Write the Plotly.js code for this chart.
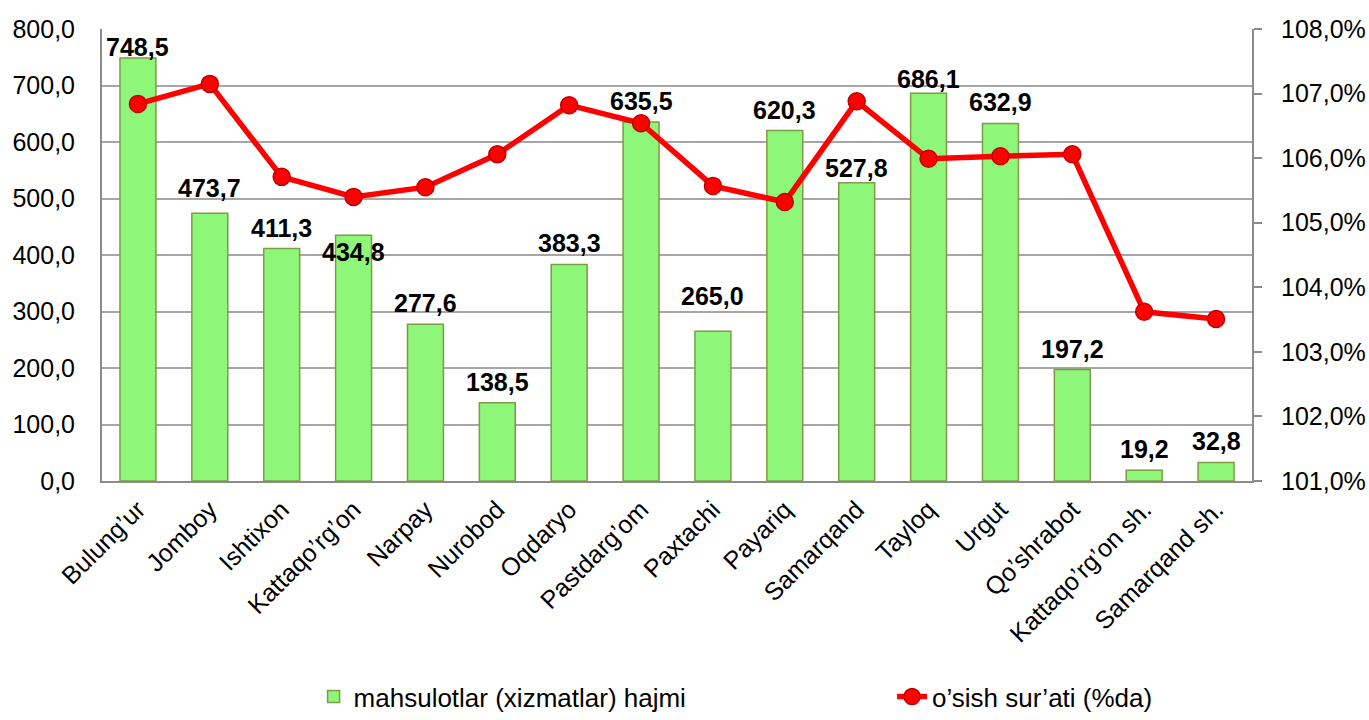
<!DOCTYPE html>
<html>
<head>
<meta charset="utf-8">
<script src="https://cdn.plot.ly/plotly-3.0.1.min.js"></script>
<style>
html,body{margin:0;padding:0;background:#fff;}
#chart{width:1369px;height:720px;}
</style>
</head>
<body>
<div id="chart"></div>
<script>
const categories = ["Bulung’ur","Jomboy","Ishtixon","Kattaqo’rg’on","Narpay","Nurobod","Oqdaryo","Pastdarg’om","Paxtachi","Payariq","Samarqand","Tayloq","Urgut","Qo’shrabot","Kattaqo’rg’on sh.","Samarqand sh."];
const volume = [748.5,473.7,411.3,434.8,277.6,138.5,383.3,635.5,265.0,620.3,527.8,686.1,632.9,197.2,19.2,32.8];
const growth = [106.84,107.15,105.71,105.40,105.55,106.06,106.82,106.54,105.57,105.32,106.88,105.99,106.03,106.06,103.62,103.51];
const barName = "mahsulotlar (xizmatlar) hajmi";
const lineName = "o’sish sur’ati (%da)";

// label placement tweaks (pixels), style only
const defaultShift = 5;
const shiftOverride = {0:-5, 3:-33, 8:19, 10:-1, 11:-2, 1:9};

const FONT = "Liberation Sans, Arial, sans-serif";
const FS = 25;
const fmt = v => v.toFixed(1).replace('.', ',');

const bars = {
  type:'bar', x:categories, y:volume, name:barName,
  width:0.5, legend:'legend',
  marker:{color:'#8EF77A', line:{color:'#7E9B45', width:1.5}},
  hoverinfo:'x+y'
};
const line = {
  type:'scatter', mode:'lines+markers', x:categories, y:growth, name:lineName,
  yaxis:'y2', legend:'legend2',
  line:{color:'#FF0000', width:5.5},
  marker:{size:17, color:'#FF0000', line:{color:'#C00000', width:1.5}}
};

const annotations = volume.map((v,i)=>({
  x:categories[i], y:v, xref:'x', yref:'y',
  text:fmt(v), showarrow:false, yanchor:'bottom',
  yshift:(shiftOverride[i]!==undefined?shiftOverride[i]:defaultShift),
  font:{family:FONT, size:FS, color:'#000', weight:'bold'}
}));

const legendBase = {
  orientation:'h', y:-0.529, yanchor:'bottom', xanchor:'left',
  font:{family:FONT, size:FS+1, color:'#000'},
  bgcolor:'rgba(0,0,0,0)', borderwidth:0
};

const layout = {
  width:1369, height:720,
  margin:{l:102, r:117, t:29, b:239, autoexpand:false},
  paper_bgcolor:'#fff', plot_bgcolor:'#fff',
  font:{family:FONT, size:FS, color:'#000'},
  separators:', ',
  showlegend:true,
  xaxis:{
    type:'category', range:[-0.5,15.5], tickangle:-45, showgrid:false,
    showline:true, linecolor:'#8c8c8c', linewidth:2,
    ticks:'', ticklabelstandoff:2,
    tickfont:{family:FONT, size:FS, color:'#000'},
    automargin:false
  },
  yaxis:{
    range:[0,800], dtick:100, tickformat:'.1f',
    showgrid:true, gridcolor:'#a6a6a6', gridwidth:2,
    showline:true, linecolor:'#8c8c8c', linewidth:2,
    ticks:'', ticklabelstandoff:20,
    tickfont:{family:FONT, size:FS, color:'#000'},
    zeroline:false, automargin:false
  },
  yaxis2:{
    overlaying:'y', side:'right',
    range:[101,108], dtick:1, tickformat:'.1f', ticksuffix:'%',
    showgrid:false, showline:true, linecolor:'#8c8c8c', linewidth:2,
    ticks:'outside', ticklen:8, tickcolor:'#8c8c8c', tickwidth:2,
    ticklabelstandoff:14,
    tickfont:{family:FONT, size:FS, color:'#000'},
    zeroline:false, automargin:false
  },
  legend:Object.assign({}, legendBase, {x:0.184}),
  legend2:Object.assign({}, legendBase, {x:0.687}),
  annotations:annotations
};

Plotly.newPlot('chart', [bars, line], layout, {displayModeBar:false, staticPlot:true});
</script>
</body>
</html>
